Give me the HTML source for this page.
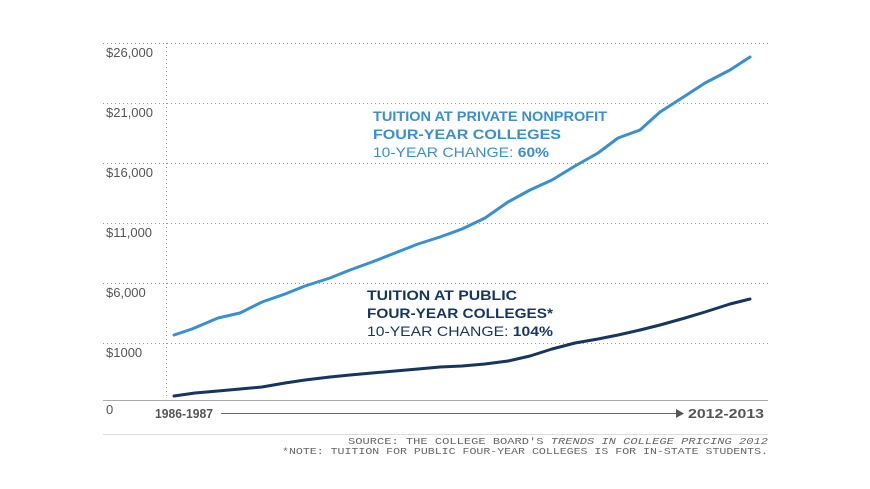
<!DOCTYPE html>
<html><head><meta charset="utf-8"><style>
html,body{margin:0;padding:0;background:#fff;}
svg{display:block;}
</style></head><body>
<svg width="870" height="489" viewBox="0 0 870 489" xmlns="http://www.w3.org/2000/svg" font-family="Liberation Sans, Arial, sans-serif">
<rect width="870" height="489" fill="#fff"/>
<g stroke="#999" stroke-width="1" stroke-dasharray="1,3">
<line x1="103" y1="43.5" x2="768" y2="43.5"/>
<line x1="103" y1="103.5" x2="768" y2="103.5"/>
<line x1="103" y1="163.5" x2="768" y2="163.5"/>
<line x1="103" y1="223.5" x2="768" y2="223.5"/>
<line x1="103" y1="283.5" x2="768" y2="283.5"/>
<line x1="103" y1="343.5" x2="768" y2="343.5"/>
<line x1="166.5" y1="43" x2="166.5" y2="398"/>
</g>
<line x1="103" y1="400.5" x2="768" y2="400.5" stroke="#aaa" stroke-width="1"/>
<line x1="103" y1="434.5" x2="768" y2="434.5" stroke="#ddd" stroke-width="1"/>
<g fill="#555" font-size="13">
<text x="106" y="57">$26,000</text>
<text x="106" y="117">$21,000</text>
<text x="106" y="177">$16,000</text>
<text x="106" y="237">$11,000</text>
<text x="106" y="297">$6,000</text>
<text x="106" y="357">$1000</text>
<text x="106" y="414">0</text>
</g>
<g fill="#555" font-size="13" font-weight="bold">
<text x="155" y="418" textLength="58" lengthAdjust="spacingAndGlyphs">1986-1987</text>
<text x="688" y="418" textLength="76" lengthAdjust="spacingAndGlyphs">2012-2013</text>
</g>
<line x1="221" y1="413.5" x2="676" y2="413.5" stroke="#666" stroke-width="1"/>
<polygon points="676,409 684,413.5 676,418" fill="#555"/>
<g fill="#666" font-size="9" font-family="Liberation Mono, monospace" text-anchor="end">
<text x="768" y="444" textLength="420" lengthAdjust="spacingAndGlyphs">SOURCE: THE COLLEGE BOARD'S <tspan font-style="italic">TRENDS IN COLLEGE PRICING 2012</tspan></text>
<text x="768" y="454" textLength="486" lengthAdjust="spacingAndGlyphs">*NOTE: TUITION FOR PUBLIC FOUR-YEAR COLLEGES IS FOR IN-STATE STUDENTS.</text>
</g>
<polyline fill="none" stroke="#3a8fd0" stroke-width="3" stroke-linejoin="round" stroke-linecap="round" points="174,335 192,329 218,318 240,313 262,302 285,294 305,286 330,278 350,270 372,262 395,253 418,244 440,237 462,229 485,218 508,202 530,190 552,180 575,166 598,153 618,138 640,130 660,112 685,96 705,83 730,70 750,57"/>
<polyline fill="none" stroke="#17355f" stroke-width="3" stroke-linejoin="round" stroke-linecap="round" points="174,396 195,393 218,391 240,389 262,387 285,383 305,380 330,377 350,375 372,373 395,371 418,369 440,367 462,366 485,364 508,361 530,356 552,349 575,343 598,339 618,335 640,330 660,325 685,318 705,312 730,304 750,299"/>
<g fill="#3a8fd0" font-size="14">
<text x="373" y="121" font-weight="bold" textLength="234" lengthAdjust="spacingAndGlyphs">TUITION AT PRIVATE NONPROFIT</text>
<text x="373" y="139" font-weight="bold" textLength="188" lengthAdjust="spacingAndGlyphs">FOUR-YEAR COLLEGES</text>
<text x="373" y="157" textLength="176" lengthAdjust="spacingAndGlyphs">10-YEAR CHANGE: <tspan font-weight="bold">60%</tspan></text>
</g>
<g fill="#17355f" font-size="14">
<text x="367" y="300" font-weight="bold" textLength="150" lengthAdjust="spacingAndGlyphs">TUITION AT PUBLIC</text>
<text x="367" y="318" font-weight="bold" textLength="186" lengthAdjust="spacingAndGlyphs">FOUR-YEAR COLLEGES*</text>
<text x="367" y="336" textLength="186" lengthAdjust="spacingAndGlyphs">10-YEAR CHANGE: <tspan font-weight="bold">104%</tspan></text>
</g>
</svg>
</body></html>
